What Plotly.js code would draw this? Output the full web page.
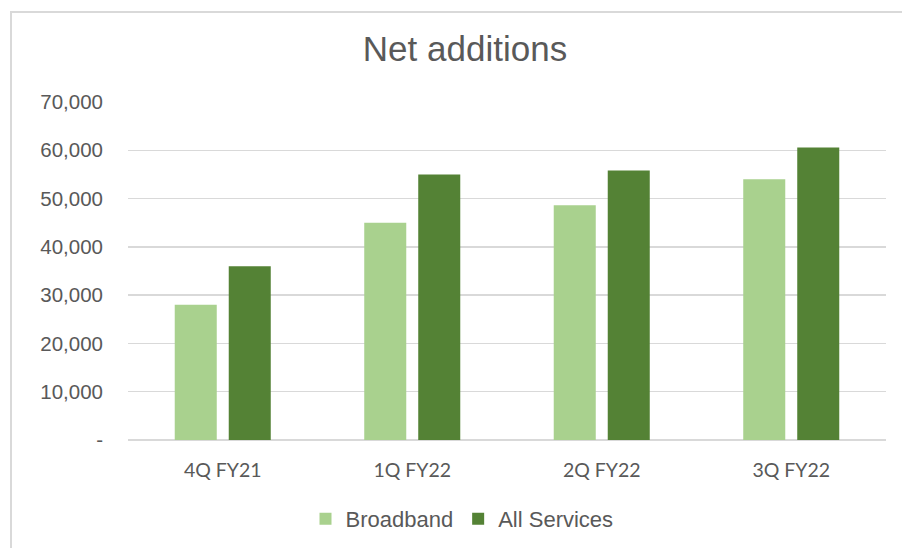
<!DOCTYPE html>
<html>
<head>
<meta charset="utf-8">
<script src="https://cdn.plot.ly/plotly-3.0.1.min.js"></script>
<style>
  html, body { margin: 0; padding: 0; background: #ffffff; overflow: hidden; }
  #wrap { position: relative; width: 902px; height: 548px; }
  #chart { position: absolute; left: 0; top: 0; width: 902px; height: 548px; }
  #frame { position: absolute; left: 10px; top: 11px; width: 1000px; height: 1000px;
           border: 2px solid #d9d9d9; pointer-events: none; }
</style>
</head>
<body>
<div id="wrap">
  <div id="chart"></div>
  <div id="frame"></div>
</div>
<script>
const categories = ["4Q FY21", "1Q FY22", "2Q FY22", "3Q FY22"];
const broadband = [28000, 45000, 48600, 54000];
const allServices = [36000, 55000, 55800, 60600];
const yTickVals = [0, 10000, 20000, 30000, 40000, 50000, 60000, 70000];
const yTickText = ["-", "10,000", "20,000", "30,000", "40,000", "50,000", "60,000", "70,000"];

const traces = [
  { type: "bar", name: "Broadband", x: categories, y: broadband,
    marker: { color: "#A9D18E" }, hoverinfo: "x+y" },
  { type: "bar", name: "All Services", x: categories, y: allServices,
    marker: { color: "#548235" }, hoverinfo: "x+y" }
];

const layout = {
  width: 902, height: 548,
  margin: { l: 128, r: 16, t: 102, b: 108, pad: 0 },
  paper_bgcolor: "#ffffff", plot_bgcolor: "#ffffff",
  barmode: "group", bargap: 0.43, bargroupgap: 0.222,
  title: { text: "Net additions", xref: "container", x: 465 / 902, xanchor: "center",
           yref: "container", y: 1 - 49 / 548, yanchor: "middle",
           font: { family: "Liberation Sans, Arial, sans-serif", size: 35, color: "#595959" } },
  xaxis: { type: "category", showgrid: false, zeroline: false, showline: false,
           ticks: "", ticklabelstandoff: 16,
           tickfont: { family: "Lato, sans-serif", size: 19.5, color: "#595959" } },
  yaxis: { range: [0, 70000], tickvals: yTickVals, ticktext: yTickText,
           showgrid: true, gridcolor: "#d9d9d9", gridwidth: 1.5,
           zeroline: true, zerolinecolor: "#d9d9d9", zerolinewidth: 1.5,
           showline: false, ticks: "", ticklabelstandoff: 24,
           tickfont: { family: "Liberation Sans, Arial, sans-serif", size: 20.5, color: "#595959" } },
  showlegend: true,
  legend: { orientation: "h", xref: "container", yref: "container",
            x: 462 / 902, xanchor: "center", y: 1 - 519 / 548, yanchor: "middle",
            font: { family: "Liberation Sans, Arial, sans-serif", size: 22, color: "#595959" },
            itemwidth: 30, traceorder: "normal", bgcolor: "rgba(0,0,0,0)" }
};

Plotly.newPlot("chart", traces, layout, { displayModeBar: false, staticPlot: true });
</script>
</body>
</html>
